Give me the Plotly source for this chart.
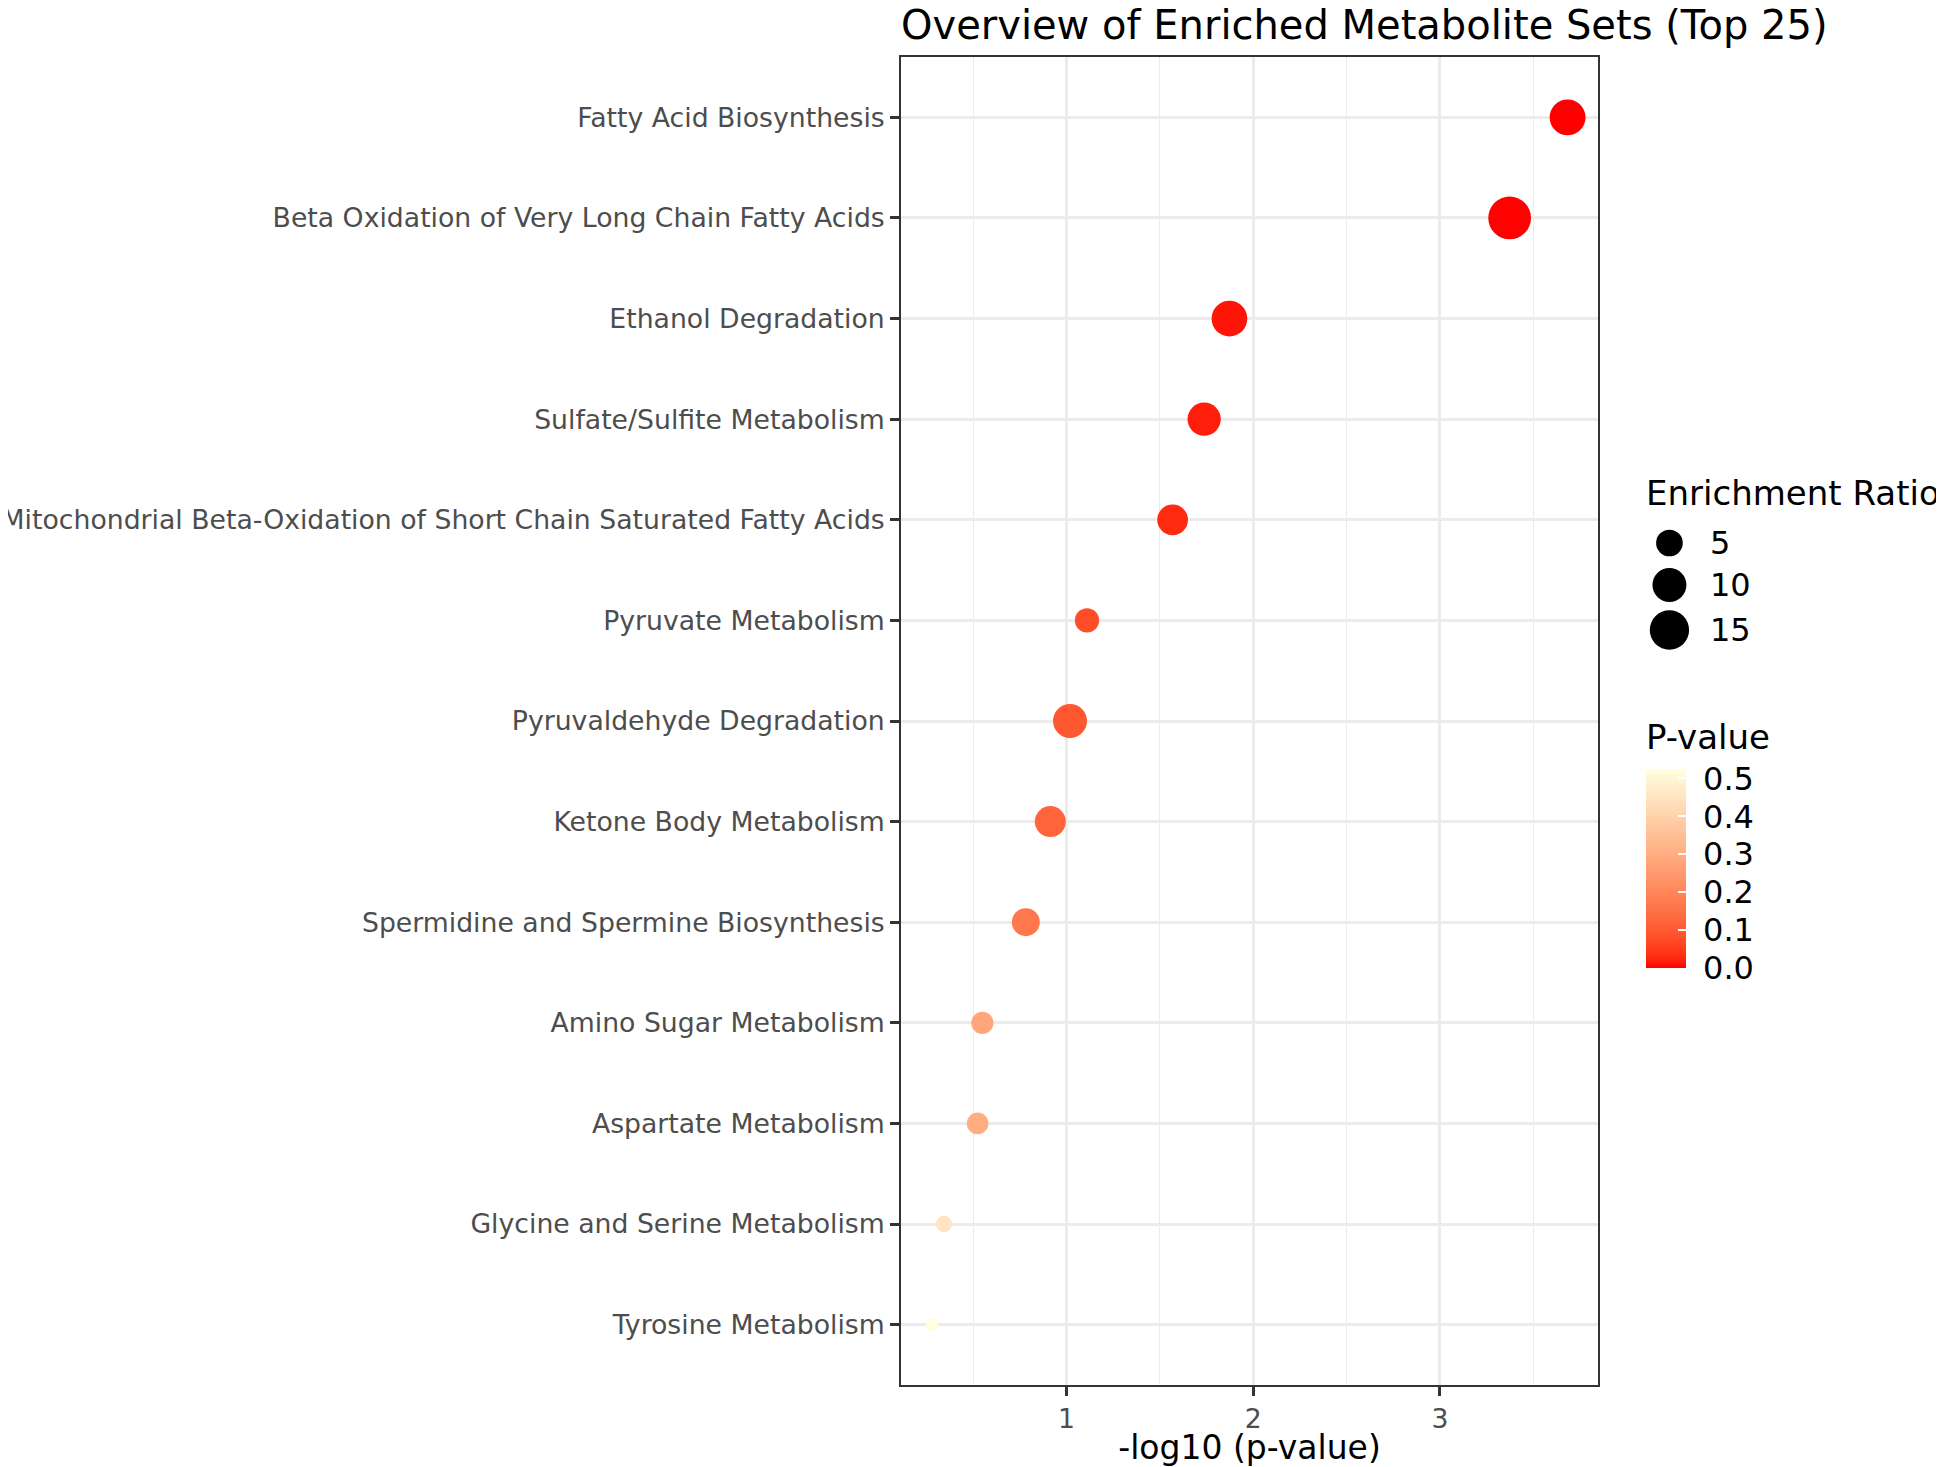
import math
import plotly.graph_objects as go

# ---------------- data ----------------
pathways = [
    "Fatty Acid Biosynthesis",
    "Beta Oxidation of Very Long Chain Fatty Acids",
    "Ethanol Degradation",
    "Sulfate/Sulfite Metabolism",
    "Mitochondrial Beta-Oxidation of Short Chain Saturated Fatty Acids",
    "Pyruvate Metabolism",
    "Pyruvaldehyde Degradation",
    "Ketone Body Metabolism",
    "Spermidine and Spermine Biosynthesis",
    "Amino Sugar Metabolism",
    "Aspartate Metabolism",
    "Glycine and Serine Metabolism",
    "Tyrosine Metabolism",
]
p_values = [0.000207, 0.000423, 0.0134, 0.0183, 0.0270, 0.0776, 0.0957,
            0.122, 0.165, 0.282, 0.299, 0.453, 0.525]
enrichment_ratio = [11.7, 18.8, 11.5, 9.4, 7.5, 3.8, 10.0, 7.7, 5.7, 3.0, 2.8, 1.6, 1.4]

size_legend_values = [5, 10, 15]
color_ticks = [0.0, 0.1, 0.2, 0.3, 0.4, 0.5]

neg_log_p = [-math.log10(p) for p in p_values]

# ---------------- styling helpers ----------------
OFF = 8  # page body margin in the browser
W, H = 1944 - OFF, 1467 - OFF
PL, PR, PT, PB = 901 - OFF, 1597.6 - OFF, 57 - OFF, 1385 - OFF  # panel box (figure px)

def px_x(px):
    return (px - OFF - PL) / (PR - PL)

def px_y(py):
    return (PB - (py - OFF)) / (PB - PT)

D_MIN, D_MAX = 13.3, 42.7
vmin, vmax = min(enrichment_ratio), max(enrichment_ratio)

def diam(v):
    t = max(0.0, (v - vmin) / (vmax - vmin))
    return D_MIN + (D_MAX - D_MIN) * math.sqrt(t)

# Lab interpolation (like ggplot's gradient) from red to lightyellow
def _lin(c):
    c /= 255.0
    return c / 12.92 if c <= 0.04045 else ((c + 0.055) / 1.055) ** 2.4

def _unlin(c):
    c = 12.92 * c if c <= 0.0031308 else 1.055 * c ** (1 / 2.4) - 0.055
    return max(0, min(255, round(c * 255)))

XN, YN, ZN = 0.95047, 1.0, 1.08883

def _f(t):
    d = 6 / 29
    return t ** (1 / 3) if t > d ** 3 else t / (3 * d * d) + 4 / 29

def _finv(t):
    d = 6 / 29
    return t ** 3 if t > d else 3 * d * d * (t - 4 / 29)

def rgb2lab(rgb):
    r, g, b = (_lin(c) for c in rgb)
    X = 0.4124 * r + 0.3576 * g + 0.1805 * b
    Y = 0.2126 * r + 0.7152 * g + 0.0722 * b
    Z = 0.0193 * r + 0.1192 * g + 0.9505 * b
    fx, fy, fz = _f(X / XN), _f(Y / YN), _f(Z / ZN)
    return (116 * fy - 16, 500 * (fx - fy), 200 * (fy - fz))

def lab2rgb(lab):
    L, a, b = lab
    fy = (L + 16) / 116
    fx = fy + a / 500
    fz = fy - b / 200
    X, Y, Z = XN * _finv(fx), YN * _finv(fy), ZN * _finv(fz)
    r = 3.2406 * X - 1.5372 * Y - 0.4986 * Z
    g = -0.9689 * X + 1.8758 * Y + 0.0415 * Z
    bb = 0.0557 * X - 0.2040 * Y + 1.0570 * Z
    return tuple(_unlin(max(0.0, c)) for c in (r, g, bb))

low_lab = rgb2lab((255, 0, 0))
high_lab = rgb2lab((255, 255, 224))
colorscale = []
N = 20
for i in range(N + 1):
    t = i / N
    lab = tuple(l + (h - l) * t for l, h in zip(low_lab, high_lab))
    r, g, b = lab2rgb(lab)
    colorscale.append([t, f"rgb({r},{g},{b})"])

FONT = "DejaVu Sans"
AX_TXT = 26.7
LEG_TXT = 32
LEG_TITLE = 34
GRID = "#EBEBEB"
DARK = "#333333"
NBSP = "\u00a0"

fig = go.Figure()
fig.add_trace(go.Scatter(
    x=neg_log_p, y=pathways, mode="markers",
    marker=dict(
        size=[diam(v) for v in enrichment_ratio],
        color=p_values, colorscale=colorscale, cmin=0, cmax=max(p_values),
        opacity=1, line=dict(width=0),
        showscale=True,
        colorbar=dict(
            x=px_x(1646), xanchor="left", xref="paper",
            y=px_y(968), yanchor="bottom", yref="paper",
            len=199, lenmode="pixels", thickness=40, thicknessmode="pixels",
            xpad=0, ypad=0, outlinewidth=0,
            tickvals=color_ticks, ticktext=[NBSP + f"{v:.1f}" for v in color_ticks],
            ticks="inside", tickcolor="white", ticklen=8, tickwidth=1.5,
            tickfont=dict(family=FONT, size=LEG_TXT, color="black"),
            title=dict(text=""),
        ),
    ),
    showlegend=False, hoverinfo="x+y",
))

shapes = []
annotations = []
legend_y = [543, 585, 630]
for v, cy in zip(size_legend_values, legend_y):
    d = diam(v)
    shapes.append(dict(type="circle", xref="paper", yref="paper",
                       xsizemode="pixel", ysizemode="pixel",
                       xanchor=px_x(1669), yanchor=px_y(cy),
                       x0=-d / 2, x1=d / 2, y0=-d / 2, y1=d / 2,
                       fillcolor="black", line=dict(width=0)))
    annotations.append(dict(text=str(v), xref="paper", yref="paper",
                            x=px_x(1708), y=px_y(cy), xanchor="left", yanchor="middle",
                            showarrow=False, font=dict(family=FONT, size=LEG_TXT, color="black")))

annotations.append(dict(text="Enrichment Ratio", xref="paper", yref="paper",
                        x=px_x(1644), y=px_y(493), xanchor="left", yanchor="middle",
                        showarrow=False, font=dict(family=FONT, size=LEG_TITLE, color="black")))
annotations.append(dict(text="P-value", xref="paper", yref="paper",
                        x=px_x(1644), y=px_y(737), xanchor="left", yanchor="middle",
                        showarrow=False, font=dict(family=FONT, size=LEG_TITLE, color="black")))

fig.update_layout(
    width=W, height=H,
    margin=dict(l=PL, r=W - PR, t=PT, b=H - PB, autoexpand=False),
    paper_bgcolor="white", plot_bgcolor="white",
    font=dict(family=FONT),
    title=dict(text="Overview of Enriched Metabolite Sets (Top 25)",
               x=PL / W, xanchor="left", xref="container",
               y=1 - 16.5 / H, yanchor="middle", yref="container",
               font=dict(family=FONT, size=40, color="black")),
    shapes=shapes, annotations=annotations,
    showlegend=False,
)

fig.update_xaxes(
    range=[0.1139, 3.8469], tickvals=[1, 2, 3],
    showgrid=True, gridcolor=GRID, gridwidth=2.7,
    minor=dict(tickvals=[0.5, 1.5, 2.5, 3.5], showgrid=True, gridcolor=GRID, gridwidth=1.4, ticks=""),
    zeroline=False,
    showline=True, linecolor=DARK, linewidth=1.8, mirror=True,
    ticks="outside", ticklen=9, tickwidth=2.7, tickcolor=DARK,
    tickfont=dict(family=FONT, size=AX_TXT, color="#4D4D4D"),
    title=dict(text="-log10 (p-value)", font=dict(family=FONT, size=33, color="black"), standoff=3),
    automargin=False,
)
fig.update_yaxes(
    categoryorder="array", categoryarray=pathways,
    range=[len(pathways) - 1 + 0.6, -0.6],
    showgrid=True, gridcolor=GRID, gridwidth=2.7,
    zeroline=False,
    showline=True, linecolor=DARK, linewidth=1.8, mirror=True,
    ticks="outside", ticklen=9, tickwidth=2.7, tickcolor=DARK,
    tickfont=dict(family=FONT, size=AX_TXT, color="#4D4D4D"),
    ticklabelstandoff=0,
    automargin=False,
)

fig.write_html("out.html")
